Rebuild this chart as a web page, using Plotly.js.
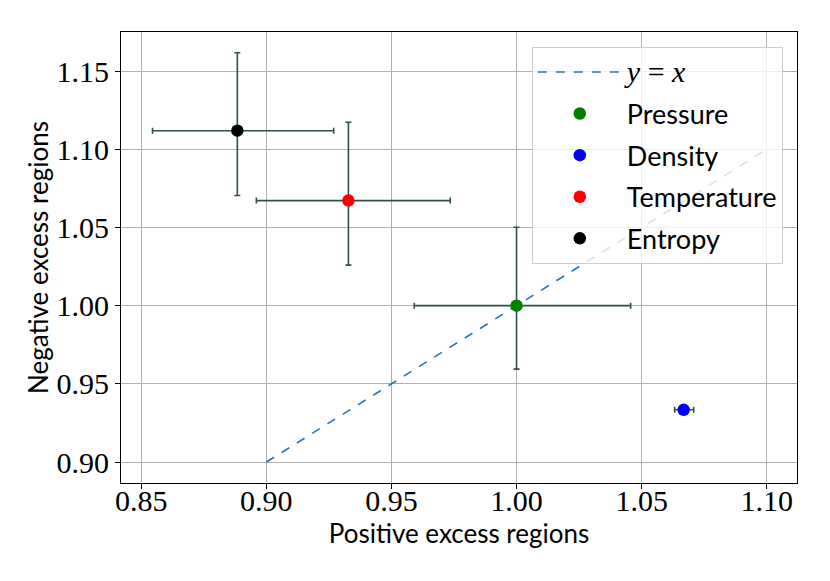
<!DOCTYPE html>
<html>
<head>
<meta charset="utf-8">
<script src="https://cdn.plot.ly/plotly-3.0.1.min.js"></script>
<style>html,body{margin:0;padding:0;background:#fff;}#chart{width:830px;height:581px;}</style>
</head>
<body>
<div id="chart"></div>
<script>
// Series names
const names = ["Pressure", "Density", "Temperature", "Entropy"];
const colors = ["#008000", "#0000ff", "#ff0000", "#000000"];
// Positive excess ratio (x) with asymmetric errors
const xVals = [1.000, 1.0668, 0.9328, 0.8884];
const xErrPlus = [0.0456, 0.0040, 0.0407, 0.0385];
const xErrMinus = [0.0409, 0.0036, 0.0368, 0.0339];
// Negative excess ratio (y) with asymmetric errors
const yVals = [1.000, 0.9334, 1.0672, 1.1119];
const yErrPlus = [0.0501, 0.002, 0.0501, 0.0498];
const yErrMinus = [0.0406, 0.002, 0.0413, 0.0415];
// Reference line y = x
const lineX = [0.90, 1.10];
const lineY = [0.90, 1.10];

const serif = "Liberation Serif, DejaVu Serif, serif";
const sans = "Lato, Noto Sans, DejaVu Sans, sans-serif";
const errColor = "#2f4f4f";

const traces = [{
  x: lineX, y: lineY, mode: "lines", type: "scatter",
  name: '<span style="font-family:Liberation Serif;font-size:30px"><i>y</i> = <i>x</i></span>',
  legendgroup: "g0",
  line: {color: "#1f77b4", dash: "dash", width: 1.6}
}];
for (let i = 0; i < names.length; i++) {
  traces.push({
    x: [xVals[i]], y: [yVals[i]], type: "scatter", mode: "markers",
    name: names[i], legendgroup: "g" + (i + 1),
    marker: {color: colors[i], size: 12.5},
    error_x: {type: "data", symmetric: false, array: [xErrPlus[i]], arrayminus: [xErrMinus[i]],
      color: errColor, thickness: 1.6, width: 3},
    error_y: {type: "data", symmetric: false, array: [yErrPlus[i]], arrayminus: [yErrMinus[i]],
      color: errColor, thickness: 1.6, width: 3}
  });
}

const axisCommon = {
  showgrid: true, gridcolor: "#b0b0b0", gridwidth: 1,
  showline: true, linecolor: "#000", linewidth: 1, mirror: true,
  ticks: "outside", ticklen: 5, tickcolor: "#000", tickwidth: 1,
  zeroline: false,
  tickfont: {family: serif, size: 30, color: "#000"}
};

const layout = {
  width: 830, height: 581,
  margin: {l: 121, r: 33, t: 32, b: 98},
  paper_bgcolor: "#fff", plot_bgcolor: "#fff",
  showlegend: true,
  xaxis: Object.assign({}, axisCommon, {
    range: [0.8419, 1.1121],
    tickvals: [0.85, 0.90, 0.95, 1.00, 1.05, 1.10],
    ticktext: ["0.85", "0.90", "0.95", "1.00", "1.05", "1.10"],
    ticklabelstandoff: -14,
    title: {text: "Positive excess regions", font: {family: sans, size: 26, color: "#000"}, standoff: 4}
  }),
  yaxis: Object.assign({}, axisCommon, {
    range: [0.8866, 1.175],
    tickvals: [0.90, 0.95, 1.00, 1.05, 1.10, 1.15],
    ticktext: ["0.90", "0.95", "1.00", "1.05", "1.10", "1.15"],
    title: {text: "Negative excess regions", font: {family: sans, size: 26, color: "#000"}, standoff: 0}
  }),
  legend: {
    x: 0.979, xanchor: "right", y: 0.967, yanchor: "top",
    bgcolor: "rgba(255,255,255,0.8)", bordercolor: "#cccccc", borderwidth: 1,
    itemwidth: 84, tracegroupgap: 3.5, traceorder: "grouped",
    font: {family: sans, size: 27, color: "#000"}
  }
};

Plotly.newPlot("chart", traces, layout, {staticPlot: true, displayModeBar: false});
</script>
</body>
</html>
